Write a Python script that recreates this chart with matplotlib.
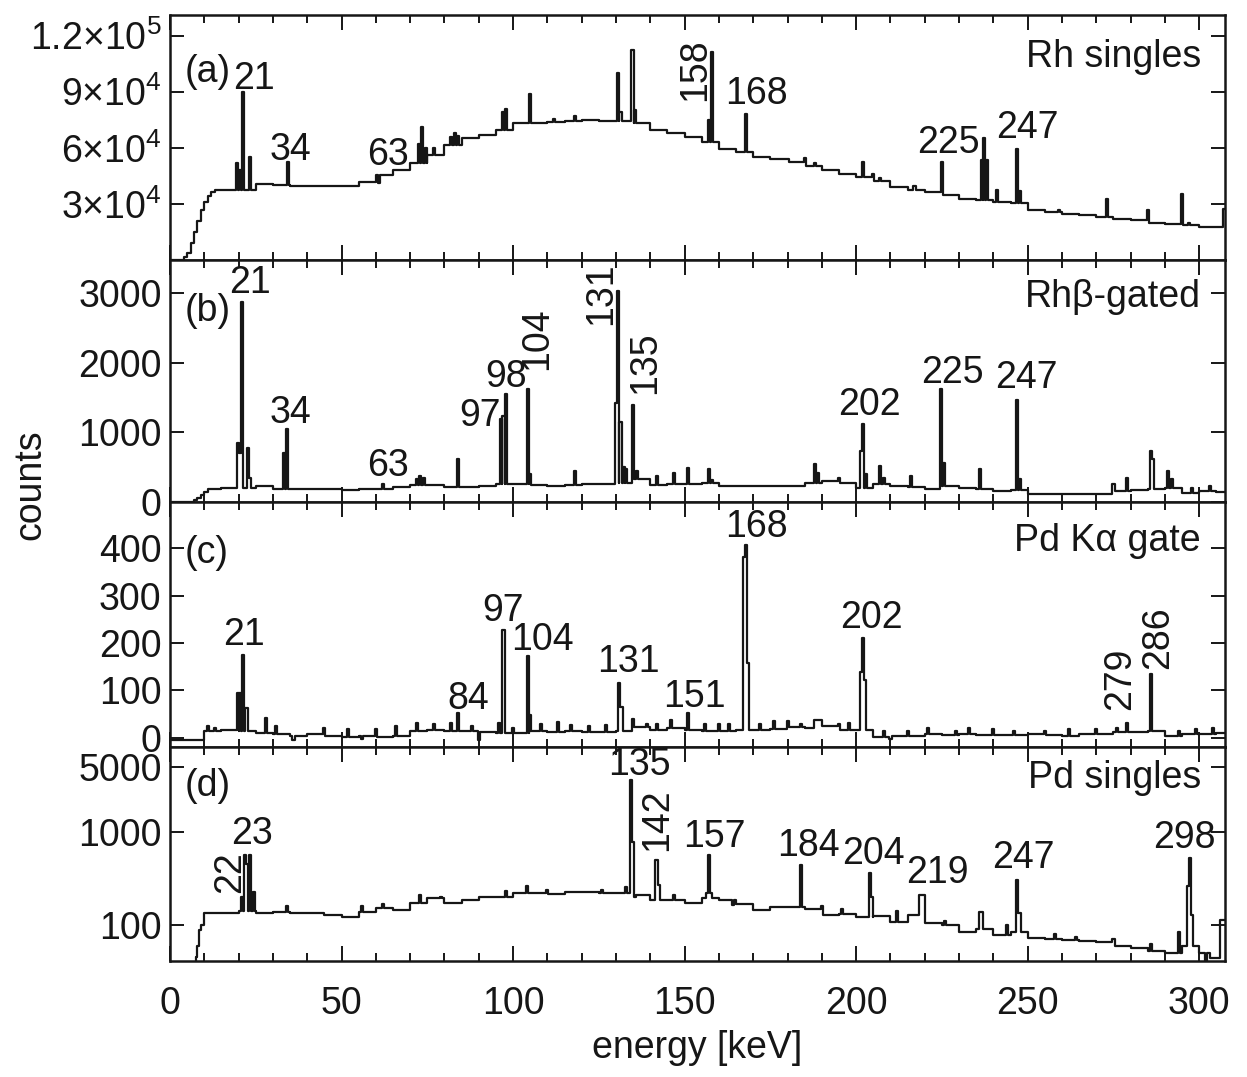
import numpy as np
import matplotlib.pyplot as plt
from matplotlib.ticker import MultipleLocator, FixedLocator, NullLocator, NullFormatter

plt.rcParams['font.family'] = ['Liberation Sans', 'DejaVu Sans']
plt.rcParams['mathtext.fontset'] = 'custom'
plt.rcParams['mathtext.rm'] = 'Liberation Sans'
plt.rcParams['mathtext.it'] = 'Liberation Sans:italic'

# ---- data (energy in keV, counts) ----
# (a) Rh singles: continuum knots
a_bg_e = [0, 3, 4, 5, 6, 7, 8, 9, 10, 11, 12, 13, 15, 20, 25, 30, 35, 40, 45, 50,
          55, 60, 65, 70, 75, 80, 85, 90, 95, 100, 105, 110, 115, 120, 125, 130,
          135, 140, 145, 150, 155, 160, 165, 170, 175, 180, 185, 190, 195, 200,
          205, 210, 215, 220, 225, 230, 235, 240, 245, 250, 255, 260, 265, 270,
          275, 280, 285, 290, 295, 300, 305, 307]
a_bg_c = [0, 0, 1500, 4000, 9000, 15000, 21000, 27000, 31000, 34000, 36500, 37500,
          37500, 37500, 40700, 40000, 39500, 39500, 39500, 39800, 41800, 45500,
          48000, 52000, 56000, 61500, 65000, 67000, 69500, 73000, 73000, 74000,
          74500, 75000, 74500, 74500, 73000, 69500, 68000, 66000, 63000, 59500,
          58000, 55000, 54000, 52500, 50500, 48000, 46000, 44500, 42000, 39000,
          37500, 36500, 34500, 32800, 32000, 31000, 30500, 26800, 25500, 24800,
          24000, 23000, 22000, 21200, 20000, 19300, 18500, 17700, 17700, 27500]
# (a) lines
a_pk_e = [19.6, 20.3, 21.2, 23.3, 34.5, 61, 72.5, 73.5, 74.5, 77, 82, 83, 84, 97, 97.8,
          105, 112, 118, 130.5, 131.3, 134.8, 135.5, 157.2, 158, 168, 180, 185, 188,
          202, 205, 207, 217, 225, 236.6, 237.3, 238, 241, 247, 247.7, 259, 273, 285,
          295, 297]
a_pk_c = [52000, 48000, 90000, 55000, 52500, 41000, 62000, 71000, 60000, 60000, 66000,
          68000, 66500, 79000, 81000, 88500, 75500, 77000, 100000, 79000, 112500,
          80000, 75000, 111000, 78000, 54000, 54500, 52000, 52500, 46000, 44000,
          39500, 52500, 53500, 65000, 53500, 37500, 59500, 37000, 27000, 32800,
          26800, 35500, 20000]

# (b) Rh beta-gated
b_bg_e = [0, 5, 7, 8, 9, 10, 11, 15, 20, 25, 30, 35, 40, 45, 50, 55, 60, 65, 70, 75,
          80, 85, 90, 95, 100, 105, 110, 115, 120, 125, 130, 135, 140, 145, 150, 155,
          160, 165, 170, 175, 180, 185, 190, 195, 200, 205, 210, 215, 220, 225, 230,
          235, 240, 245, 250, 255, 260, 265, 270, 275, 280, 285, 290, 295, 300, 305]
b_bg_c = [0, 0, 30, 60, 100, 150, 190, 200, 200, 230, 190, 190, 180, 180, 175, 180,
          190, 220, 250, 250, 210, 215, 230, 255, 255, 240, 230, 250, 255, 260, 275,
          330, 250, 260, 260, 270, 230, 230, 230, 230, 230, 270, 300, 280, 200, 255,
          230, 220, 190, 230, 200, 190, 160, 170, 115, 115, 115, 115, 120, 160, 170,
          180, 200, 130, 160, 150]
b_pk_e = [19.8, 20.4, 21.0, 22.8, 23.4, 33.3, 34.0, 62, 72, 73, 74, 84, 96.6, 97.2, 98,
          104.3, 105, 118, 130.0, 130.6, 131.3, 132.2, 133, 135, 136, 142, 147, 151, 157,
          158, 188, 189, 195, 201.5, 202.1, 202.8, 207, 208, 216, 224.8, 225.5, 236,
          247, 247.7, 275, 279, 285.8, 286.4, 291, 292, 298, 303]
b_pk_c = [850, 700, 2870, 780, 350, 700, 1050, 260, 330, 370, 350, 620, 1200, 1230, 1550,
          1620, 400, 450, 1430, 3040, 1150, 500, 480, 1390, 450, 380, 420, 490, 470, 320,
          550, 420, 350, 740, 1120, 400, 520, 350, 375, 1630, 560, 470, 1470, 330, 255,
          350, 740, 620, 450, 330, 200, 230]

# (c) Pd K-alpha gate
c_bg_e = [0, 10, 15, 20, 25, 30, 35, 40, 45, 50, 55, 60, 65, 70, 75, 80, 85, 90, 95,
          100, 105, 110, 115, 120, 125, 130, 135, 140, 145, 150, 155, 160, 165, 170,
          175, 180, 185, 190, 195, 200, 205, 210, 215, 220, 225, 230, 235, 240, 245,
          250, 255, 260, 265, 270, 275, 280, 285, 290, 295, 300, 305]
c_bg_c = [-4, 15, 17, 15, 10, 8, 5, 8, 5, 3, 5, 3, 5, 15, 17, 15, 15, 13, 10, 10, 15,
          13, 15, 13, 12, 15, 23, 17, 20, 17, 15, 15, 17, 17, 18, 23, 20, 25, 17, 17,
          3, 5, 5, 8, 6, 8, 7, 7, 6, 8, 6, 5, 8, 8, 12, 12, 15, 5, 8, 8, 10]
c_pk_e = [11, 13, 19.8, 20.5, 21.2, 22.3, 28, 31, 36, 45, 52, 56, 60, 66, 72, 77, 82,
          84, 88, 90, 96, 97.2, 100, 104.3, 105, 108, 113, 117, 122, 127, 131, 131.6,
          135, 139, 142, 146, 151, 156, 160, 163, 167.4, 168, 168.6, 172, 176, 180, 184,
          188, 188.6, 189.2, 189.8, 195, 198, 201.4, 202, 202.6, 208, 210, 215, 221,
          229, 233, 240, 246, 255, 262, 270, 276, 279, 286, 294, 299, 304]
c_pk_c = [25, 20, 95, 95, 175, 63, 42, 25, -5, 20, 18, -3, 18, 25, 32, 30, 32, 52, 25,
          -5, 31, 227, 20, 172, 48, 30, 34, 28, 25, 28, 116, 65, 40, 30, 30, 38, 52,
          30, 30, 30, 381, 406, 158, 30, 35, 35, 30, 38, 38, 38, 38, 30, 32, 140, 210,
          122, 15, -3, 15, 20, 15, 22, 18, 15, 15, 18, 18, 22, 31, 135, 15, 18, 22]

# (d) Pd singles
d_bg_e = [0, 7, 7.5, 8, 8.5, 9, 10, 15, 20, 25, 30, 35, 40, 45, 50, 55, 60, 65, 70,
          75, 80, 85, 90, 95, 100, 105, 110, 115, 120, 125, 130, 135, 140, 145, 150,
          155, 160, 165, 170, 175, 180, 185, 190, 195, 200, 205, 210, 215, 220, 225,
          230, 235, 240, 245, 250, 255, 260, 265, 270, 275, 280, 285, 290, 295, 300,
          303, 306]
d_bg_c = [10, 10, 45, 60, 88, 100, 133, 133, 140, 135, 138, 135, 133, 128, 122, 138,
          152, 145, 173, 195, 173, 185, 200, 200, 220, 220, 215, 225, 226, 222, 222,
          210, 185, 185, 173, 195, 185, 170, 145, 155, 157, 150, 128, 130, 122, 125,
          108, 128, 105, 100, 84, 90, 78, 85, 72, 70, 69, 68, 66, 60, 56, 52, 50, 60,
          50, 44, 113]
d_pk_e = [21, 21.8, 22.4, 23.2, 24.5, 34, 56, 62, 73, 79, 98, 104, 110, 126, 133,
          134.4, 135.0, 135.6, 141.8, 142.4, 147, 156.4, 157, 157.6, 164, 184, 190, 196,
          204, 204.6, 212, 218.6, 219.2, 219.8, 226, 236, 236.6, 244, 247, 247.6, 258,
          264, 275, 286, 294, 296.6, 297.2, 297.8, 302]
d_pk_c = [200, 565, 450, 565, 226, 160, 160, 170, 210, 200, 230, 260, 235, 240, 255,
          3600, 780, 200, 500, 270, 210, 220, 565, 220, 165, 440, 160, 150, 360, 200,
          140, 210, 210, 210, 110, 138, 138, 100, 305, 133, 80, 75, 70, 62, 84, 260,
          525, 128, 40]


def spectrum(bg_e, bg_c, pk_e, pk_c, w=0.6):
    bg_e = np.asarray(bg_e, float)
    bg_c = np.asarray(bg_c, float)
    pk_e = np.asarray(pk_e, float)
    x = np.unique(np.concatenate([bg_e, pk_e - w / 2, pk_e + w / 2]))
    idx = np.clip(np.searchsorted(bg_e, x, side='right') - 1, 0, None)
    y = bg_c[idx].copy()
    for e, c in zip(pk_e, pk_c):
        y[(x >= e - w / 2) & (x < e + w / 2)] = c
    return x, y


fig = plt.figure(figsize=(12.47, 10.77), dpi=100)
W, H = 1247.0, 1077.0
left, right = 170 / W, 1225 / W
edges = [15, 260, 502, 747, 961]
axes = []
for i in range(4):
    top, bot = edges[i], edges[i + 1]
    axes.append(fig.add_axes([left, 1 - bot / H, right - left, (bot - top) / H]))

panels = [(a_bg_e, a_bg_c, a_pk_e, a_pk_c),
          (b_bg_e, b_bg_c, b_pk_e, b_pk_c),
          (c_bg_e, c_bg_c, c_pk_e, c_pk_c),
          (d_bg_e, d_bg_c, d_pk_e, d_pk_c)]

fs = 27
ink = '#161616'
for ax, (be, bc, pe, pc) in zip(axes, panels):
    x, y = spectrum(be, bc, pe, pc)
    ax.step(np.append(x, 308), np.append(y, y[-1]), where='post', color=ink, lw=1.6)
    ax.set_xlim(0, 307.5)
    ax.xaxis.set_major_locator(MultipleLocator(50))
    ax.xaxis.set_minor_locator(MultipleLocator(10))
    ax.tick_params(which='both', direction='in', top=True, right=True,
                   labelsize=fs, width=1.4, colors=ink, pad=6)
    ax.tick_params(axis='x', which='both', pad=18)
    ax.tick_params(which='major', length=11)
    ax.tick_params(which='minor', length=6)
    ax.tick_params(axis='y', which='major', length=10)
    for s in ax.spines.values():
        s.set_linewidth(1.8)
        s.set_color(ink)
    if ax is not axes[-1]:
        ax.xaxis.set_major_formatter(NullFormatter())

# y scales
axes[0].set_ylim(0, 131000)
axes[0].yaxis.set_major_locator(FixedLocator([30000, 60000, 90000, 120000]))
axes[0].set_yticklabels([r'$3{\times}10^{4}$', r'$6{\times}10^{4}$',
                         r'$9{\times}10^{4}$', r'$1.2{\times}10^{5}$'])
axes[1].set_ylim(0, 3480)
axes[1].yaxis.set_major_locator(FixedLocator([0, 1000, 2000, 3000]))
axes[2].set_ylim(-19, 497)
axes[2].yaxis.set_major_locator(FixedLocator([0, 100, 200, 300, 400]))
axes[3].set_yscale('log')
axes[3].set_ylim(41, 8200)
axes[3].yaxis.set_major_locator(FixedLocator([100, 1000, 5000]))
axes[3].yaxis.set_minor_locator(NullLocator())
axes[3].set_yticklabels(['100', '1000', '5000'])
for ax in axes:
    ax.yaxis.set_minor_locator(NullLocator())

# peak labels: (text, x, y, rotation)
labels = [
    [('(a)', 4.4, 100700, 0), ('21', 24.5, 97000, 0), ('34', 35, 59000, 0),
     ('63', 63.5, 56000, 0), ('158', 153, 102000, 90), ('168', 171, 89000, 0),
     ('225', 227, 62500, 0), ('247', 250, 70700, 0)],
    [('(b)', 4.4, 2740, 0), ('21', 23.3, 3150, 0), ('34', 35, 1280, 0),
     ('63', 63.5, 520, 0), ('97', 90.5, 1240, 0), ('98', 98, 1800, 0),
     ('104', 107, 2350, 90), ('131', 125.7, 3000, 90), ('135', 138.5, 2000, 90),
     ('202', 204, 1390, 0), ('225', 228, 1860, 0), ('247', 249.5, 1780, 0)],
    [('(c)', 4.4, 390, 0), ('21', 21.5, 217, 0), ('84', 87, 82, 0),
     ('97', 97, 267, 0), ('104', 108.5, 206, 0), ('131', 133.5, 160, 0),
     ('151', 153, 86, 0), ('168', 171, 445, 0), ('202', 204.5, 252, 0),
     ('279', 277, 124, 90), ('286', 288, 212, 90)],
    [('(d)', 4.4, 3120, 0), ('22', 17.4, 372, 90), ('23', 24, 950, 0),
     ('135', 136.7, 5250, 0), ('142', 142, 1350, 90), ('157', 158.6, 880, 0),
     ('184', 186, 705, 0), ('204', 205, 580, 0), ('219', 223.6, 362, 0),
     ('247', 248.7, 525, 0), ('298', 295.7, 860, 0)],
]
for ax, labs in zip(axes, labels):
    for t, xx, yy, rot in labs:
        ha = 'left' if t.startswith('(') else 'center'
        ax.text(xx, yy, t, fontsize=fs, ha=ha, va='center', rotation=rot, color=ink)

titles = [('Rh singles', 108750), ('Rhβ-gated', 2950), ('Pd Kα gate', 415),
          ('Pd singles', 3800)]
for ax, (t, yy) in zip(axes, titles):
    ax.text(300.5, yy, t, fontsize=fs, ha='right', va='center', color=ink)

axes[-1].set_xlabel('energy [keV]', fontsize=fs, color=ink, labelpad=6)
fig.text(30 / W, 1 - 485 / H, 'counts', rotation=90, fontsize=fs,
         ha='center', va='center', color=ink)

fig.savefig('out.png', dpi=100)
